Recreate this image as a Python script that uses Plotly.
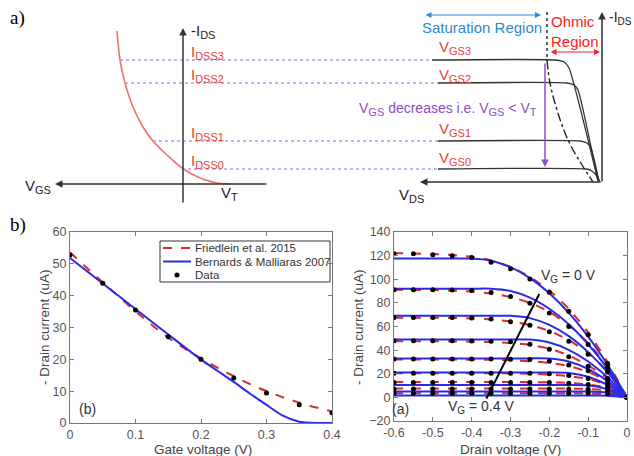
import plotly.graph_objects as go

W, H = 634, 456
FONT = "Liberation Sans, Arial, sans-serif"
SERIF = "Liberation Serif, Times New Roman, serif"

# ---------------- panel b (left): transfer curve ----------------
VG_DATA = [0, 0.05, 0.1, 0.15, 0.2, 0.25, 0.3, 0.35, 0.4]
ID_DATA = [52.8, 43.9, 35.5, 27.1, 20.0, 14.1, 9.4, 5.7, 3.2]
VG_FRIED = [0, 0.05, 0.1, 0.15, 0.2, 0.25, 0.3, 0.35, 0.4]
ID_FRIED = [53.6, 44.2, 35.1, 26.8, 20.3, 14.7, 10.0, 6.4, 3.6]
VG_BERN = [0, 0.05, 0.1, 0.15, 0.2, 0.225, 0.25, 0.275, 0.3, 0.325, 0.35, 0.375, 0.4]
ID_BERN = [51.8, 43.8, 35.8, 27.8, 19.9, 16.4, 12.9, 9.2, 5.7, 2.3, 0.4, 0, 0]
LEGEND_NAMES = ["Friedlein et al. 2015", "Bernards & Malliaras 2007", "Data"]

# ---------------- panel b (right): output curves ----------------
VD = [-0.6, -0.55, -0.5, -0.45, -0.4, -0.35, -0.3, -0.25, -0.2, -0.15, -0.1, -0.05, 0]
FRIED_OUT = [
    [122, 121.8, 121.3, 120.5, 119, 116, 110.5, 102, 90.5, 75, 55, 30, 0],
    [91, 91, 90.8, 90.4, 89.6, 88, 85, 80, 72.5, 61, 46, 26, 0],
    [67.5, 67.5, 67.4, 67.2, 66.8, 66, 64.3, 61.3, 56.3, 48.5, 37.5, 22, 0],
    [47.5, 47.5, 47.5, 47.4, 47.2, 46.8, 46, 44.5, 41.2, 35.5, 27, 16, 0],
    [32, 32, 32, 32, 31.9, 31.8, 31.4, 30.6, 29.2, 26.5, 21.5, 13.5, 0],
    [20.5, 20.5, 20.5, 20.5, 20.5, 20.4, 20.3, 20, 19.3, 18, 15.5, 10.5, 0],
    [13, 13, 13, 13, 13, 13, 13, 12.9, 12.7, 12.2, 11, 8, 0],
    [7.5, 7.5, 7.5, 7.5, 7.5, 7.5, 7.5, 7.5, 7.5, 7.4, 7.1, 5.8, 0],
    [3.5, 3.5, 3.5, 3.5, 3.5, 3.5, 3.5, 3.5, 3.5, 3.45, 3.3, 2.8, 0],
]
BERN_OUT = [
    [117.5, 117.5, 117.5, 117.5, 117.5, 115.7, 110.2, 101.0, 88.1, 71.6, 51.4, 27.5, 0],
    [92, 92, 92, 92, 92, 92, 90.1, 84.5, 75.0, 62.0, 45.0, 24.4, 0],
    [69, 69, 69, 69, 69, 69, 69, 67.1, 61.3, 51.8, 38.3, 21.1, 0],
    [49, 49, 49, 49, 49, 49, 49, 48.9, 46.4, 40.2, 30.4, 17.0, 0],
    [33, 33, 33, 33, 33, 33, 33, 33, 32.9, 30.3, 23.9, 13.9, 0],
    [21, 21, 21, 21, 21, 21, 21, 21, 21, 20.7, 17.4, 10.5, 0],
    [10.5, 10.5, 10.5, 10.5, 10.5, 10.5, 10.5, 10.5, 10.5, 10.5, 10.2, 6.9, 0],
    [5, 5, 5, 5, 5, 5, 5, 5, 5, 5, 5, 4.0, 0],
    [1.5, 1.5, 1.5, 1.5, 1.5, 1.5, 1.5, 1.5, 1.5, 1.5, 1.5, 1.45, 0],
]
DATA_OUT = [
    [121.5, 121.5, 120.7, 119.8, 118.4, 114.4, 108.8, 100.3, 89, 73, 53, 28.6, 0],
    [91.2, 91.2, 91.2, 91, 90.5, 88.7, 85.3, 79.6, 71.4, 60, 44.8, 25, 0],
    [67.7, 67.7, 67.7, 67.6, 67.2, 66.3, 64, 61, 55.5, 47.6, 36.5, 21.5, 0],
    [48, 48, 48, 48, 47.8, 47.5, 47, 45, 40.8, 34.3, 26.3, 15.9, 0],
    [32.5, 32.5, 32.5, 32.5, 32.5, 32.4, 32.2, 32, 30.5, 27.5, 22.5, 13.5, 0],
    [20.5, 20.5, 20.5, 20.5, 20.5, 20.5, 20.5, 20.5, 20, 18.5, 16, 10.5, 0],
    [12.5, 12.5, 12.5, 12.5, 12.5, 12.5, 12.5, 12.5, 12.5, 12, 11, 8, 0],
    [7, 7, 7, 7, 7, 7, 7, 7, 7, 7, 6.8, 5.5, 0],
    [3.5, 3.5, 3.5, 3.5, 3.5, 3.5, 3.5, 3.5, 3.5, 3.5, 3.5, 3, 0],
]
VG_ARROW_X = [-0.362, -0.226]
VG_ARROW_Y = [-1, 87.5]

# ---------------- panel a: schematic (diagram units = pixels) ----------------
TRANSFER_X = [117, 120, 125, 133, 143, 153, 167, 182, 200, 217, 230]
TRANSFER_Y = [31, 60, 83, 107, 127, 141, 155, 168, 178, 183, 184]
IDSS_LEVELS = [169, 141, 83, 60]
IDSS_START = [182, 153, 125, 120]
SAT_START = [438, 438, 438, 432]
OUT_CURVES_X = [
    [438, 586, 592, 596, 600],
    [438, 580, 587, 591, 599],
    [438, 567, 574, 578, 598],
    [432, 556, 564, 569, 598],
]
OUT_CURVES_Y = [
    [169, 169, 171, 175, 182],
    [141, 141, 143, 148, 181],
    [83, 83, 85, 90, 181],
    [60, 60, 62, 68, 181],
]
PINCH_X = [547, 550, 557, 568, 582, 593]
PINCH_Y = [60, 83, 110, 140, 165, 182]
SEP_X = [547, 547]
SEP_Y = [12, 60]
IDSS_LABELS = ["DSS0", "DSS1", "DSS2", "DSS3"]
IDSS_LABEL_Y = [161, 133, 75, 52]
VGS_LABELS = ["GS0", "GS1", "GS2", "GS3"]
VGS_LABEL_Y = [158, 129, 75, 47]

RED_TXT = "#e5423a"
PURPLE = "#8a4fc6"
LIGHT_PURPLE = "#b49ae6"
BLUE_TXT = "#2b8bd6"
RED_LINE = "#dd2a2a"
BLUE_LINE = "#2a2ae8"
GRAY = "#555555"


def sub(main, s, size=11):
    return f"{main}<sub><span style='font-size:{size}px'>{s}</span></sub>"


fig = go.Figure()

# schematic traces
fig.add_trace(go.Scatter(x=TRANSFER_X, y=TRANSFER_Y, mode="lines", xaxis="x3", yaxis="y3",
                         line=dict(color="#f07070", width=1.6, shape="spline", smoothing=0.8),
                         showlegend=False, hoverinfo="skip"))
for lvl, xs, xe in zip(IDSS_LEVELS, IDSS_START, SAT_START):
    fig.add_trace(go.Scatter(x=[xs, xe], y=[lvl, lvl], mode="lines", xaxis="x3", yaxis="y3",
                             line=dict(color=LIGHT_PURPLE, width=1.4, dash="dot"),
                             showlegend=False, hoverinfo="skip"))
for cx, cy in zip(OUT_CURVES_X, OUT_CURVES_Y):
    fig.add_trace(go.Scatter(x=cx, y=cy, mode="lines", xaxis="x3", yaxis="y3",
                             line=dict(color="#333333", width=1.3, shape="spline", smoothing=0.5),
                             showlegend=False, hoverinfo="skip"))
fig.add_trace(go.Scatter(x=PINCH_X, y=PINCH_Y, mode="lines", xaxis="x3", yaxis="y3",
                         line=dict(color="#222222", width=1.4, dash="dashdot", shape="spline"),
                         showlegend=False, hoverinfo="skip"))
fig.add_trace(go.Scatter(x=SEP_X, y=SEP_Y, mode="lines", xaxis="x3", yaxis="y3",
                         line=dict(color="#222222", width=1.4, dash="dot"),
                         showlegend=False, hoverinfo="skip"))

# left transfer plot
fig.add_trace(go.Scatter(x=VG_FRIED, y=ID_FRIED, mode="lines", name=LEGEND_NAMES[0], showlegend=False,
                         line=dict(color=RED_LINE, width=2, dash="dash", shape="spline"),
                         xaxis="x", yaxis="y"))
fig.add_trace(go.Scatter(x=VG_BERN, y=ID_BERN, mode="lines", name=LEGEND_NAMES[1], showlegend=False,
                         line=dict(color=BLUE_LINE, width=2, shape="spline", smoothing=0.6),
                         xaxis="x", yaxis="y"))
fig.add_trace(go.Scatter(x=VG_DATA, y=ID_DATA, mode="markers", name=LEGEND_NAMES[2], showlegend=False,
                         marker=dict(color="black", size=5), xaxis="x", yaxis="y"))

# compact legend (own small hidden axes; units = pixels inside the legend box)
LEG_ROWS = [7, 20.5, 34]
fig.add_trace(go.Scatter(x=[3, 31], y=[LEG_ROWS[0]] * 2, mode="lines", xaxis="x4", yaxis="y4",
                         showlegend=False, hoverinfo="skip",
                         line=dict(color=RED_LINE, width=2, dash="dash")))
fig.add_trace(go.Scatter(x=[3, 31], y=[LEG_ROWS[1]] * 2, mode="lines", xaxis="x4", yaxis="y4",
                         showlegend=False, hoverinfo="skip", line=dict(color=BLUE_LINE, width=2)))
fig.add_trace(go.Scatter(x=[17], y=[LEG_ROWS[2]], mode="markers", xaxis="x4", yaxis="y4",
                         showlegend=False, hoverinfo="skip", marker=dict(color="black", size=5)))

# right output plot
for r in FRIED_OUT:
    fig.add_trace(go.Scatter(x=VD, y=r, mode="lines", xaxis="x2", yaxis="y2", showlegend=False,
                             line=dict(color=RED_LINE, width=2, dash="dash", shape="spline", smoothing=0.6)))
for b in BERN_OUT:
    fig.add_trace(go.Scatter(x=VD, y=b, mode="lines", xaxis="x2", yaxis="y2", showlegend=False,
                             line=dict(color=BLUE_LINE, width=2, shape="spline", smoothing=0.6)))
for d in DATA_OUT:
    fig.add_trace(go.Scatter(x=VD, y=d, mode="markers", xaxis="x2", yaxis="y2", showlegend=False,
                             marker=dict(color="black", size=5)))
fig.add_trace(go.Scatter(x=VG_ARROW_X, y=VG_ARROW_Y, mode="lines", xaxis="x2", yaxis="y2",
                         showlegend=False, line=dict(color="black", width=2)))

axis_common = dict(showgrid=False, zeroline=False, showline=True, linecolor="#777777", linewidth=1,
                   mirror="ticks", ticks="inside", ticklen=4, tickcolor="#777777",
                   ticklabelstandoff=0, automargin=False,
                   tickfont=dict(family=FONT, size=12.5, color=GRAY))

annotations = []


def ann(text, x, y, **kw):
    d = dict(text=text, x=x, y=y, xref="x3", yref="y3", showarrow=False,
             font=dict(family=FONT, size=kw.pop("size", 15), color=kw.pop("color", "#222222")))
    d.update(kw)
    annotations.append(d)


def arrow(x0, y0, x1, y1, color, width=1.5, both=False, head=2):
    annotations.append(dict(x=x1, y=y1, ax=x0, ay=y0, xref="x3", yref="y3", axref="x3", ayref="y3",
                            text="", showarrow=True, arrowhead=head, arrowsize=1, arrowwidth=width,
                            arrowcolor=color, arrowside="end+start" if both else "end",
                            startarrowhead=head, startarrowsize=1))


# schematic axes
arrow(183, 204, 183, 28, "#333333")
arrow(268, 184, 55, 184, "#333333")
arrow(602, 183, 602, 12, "#333333")
arrow(602, 182, 420, 182, "#333333")
arrow(545, 62, 545, 167, PURPLE, width=1.5)
arrow(424, 15, 541, 15, BLUE_TXT, width=1.2, both=True)
arrow(549, 52, 600, 52, "#ff2020", width=1.2, both=True)

ann(sub("-I", "DS"), 189, 31, xanchor="left")
ann(sub("-I", "DS", 10), 607, 18, xanchor="left", size=14)
ann(sub("V", "GS"), 38, 186)
ann(sub("V", "T"), 229, 193)
ann(sub("V", "DS"), 411, 195)
for t, y in zip(IDSS_LABELS, IDSS_LABEL_Y):
    ann(sub("I", t), 189, y, xanchor="left", color=RED_TXT)
for t, y in zip(VGS_LABELS, VGS_LABEL_Y):
    ann(sub("V", t), 455, y, color=RED_TXT)
ann(sub("V", "GS") + " decreases i.e. " + sub("V", "GS") + " &lt; " + sub("V", "T"), 448, 109,
    color=PURPLE, size=14)
ann("Saturation Region", 482, 27, color=BLUE_TXT, size=15)
ann("Ohmic<br>Region", 549, 31, color="#ff2020", size=15, xanchor="left", align="left")

# legend texts
for name, yrow in zip(LEGEND_NAMES, LEG_ROWS):
    annotations.append(dict(text=name, x=33, y=yrow, xref="x4", yref="y4", showarrow=False,
                            xanchor="left", font=dict(family=FONT, size=11.5, color="#333333")))

# axis titles (placed as text, MATLAB-like)
title_font = dict(family=FONT, size=13.5, color="#444444")
AXIS_TITLES = [
    ("Gate voltage (V)", 203, 449, 0),
    ("Drain voltage (V)", 510, 449, 0),
    ("- Drain current (uA)", 44, 327, -90),
    ("- Drain current (uA)", 358, 327, -90),
]
for text, px, py, ang in AXIS_TITLES:
    annotations.append(dict(text=text, x=px / W, y=1 - py / H, xref="paper", yref="paper",
                            xanchor="center", yanchor="middle",
                            showarrow=False, textangle=ang, font=title_font))

# panel labels
annotations.append(dict(text="a)", x=8 / W, y=1 - 18 / H, xref="paper", yref="paper", showarrow=False,
                        xanchor="left", yanchor="middle", font=dict(family=SERIF, size=19, color="black")))
annotations.append(dict(text="b)", x=8 / W, y=1 - 225 / H, xref="paper", yref="paper", showarrow=False,
                        xanchor="left", yanchor="middle", font=dict(family=SERIF, size=19, color="black")))

# bottom plot labels
annotations.append(dict(text="(b)", x=0.027, y=4.3, xref="x", yref="y", showarrow=False,
                        font=dict(family=FONT, size=14, color="#333333")))
annotations.append(dict(text="(a)", x=-0.582, y=-9.5, xref="x2", yref="y2", showarrow=False,
                        font=dict(family=FONT, size=14, color="#333333")))
annotations.append(dict(text=sub("V", "G", 10) + " = 0 V", x=-0.15, y=103, xref="x2", yref="y2",
                        showarrow=False, font=dict(family=FONT, size=14, color="#333333")))
annotations.append(dict(text=sub("V", "G", 10) + " = 0.4 V", x=-0.375, y=-8, xref="x2", yref="y2",
                        showarrow=False, font=dict(family=FONT, size=14, color="#333333")))

shapes = [dict(type="rect", xref="x4 domain", yref="y4 domain", x0=0, x1=1, y0=0, y1=1,
               line=dict(color="#333333", width=1), fillcolor="white", layer="below")]

fig.update_layout(
    width=W, height=H, margin=dict(l=0, r=0, t=0, b=0, autoexpand=False),
    paper_bgcolor="white", plot_bgcolor="rgba(0,0,0,0)",
    font=dict(family=FONT),
    xaxis=dict(domain=[70 / W, 332 / W], range=[0, 0.4], tickvals=[0, 0.1, 0.2, 0.3, 0.4],
               ticktext=["0", "0.1", "0.2", "0.3", "0.4"], anchor="y", **axis_common),
    yaxis=dict(domain=[1 - 423 / H, 1 - 232 / H], range=[0, 60], dtick=10, anchor="x", **axis_common),
    xaxis2=dict(domain=[394 / W, 627 / W], range=[-0.6, 0],
                tickvals=[-0.6, -0.5, -0.4, -0.3, -0.2, -0.1, 0],
                ticktext=["-0.6", "-0.5", "-0.4", "-0.3", "-0.2", "-0.1", "0"],
                anchor="y2", **axis_common),
    yaxis2=dict(domain=[1 - 421 / H, 1 - 232 / H], range=[-20, 140], dtick=20, anchor="x2", **axis_common),
    xaxis3=dict(domain=[0, 1], range=[0, W], visible=False, anchor="y3", automargin=False),
    yaxis3=dict(domain=[1 - 205 / H, 1], range=[205, 0], visible=False, anchor="x3", automargin=False),
    xaxis4=dict(domain=[160 / W, 330 / W], range=[0, 170], visible=False, anchor="y4", automargin=False),
    yaxis4=dict(domain=[1 - 282 / H, 1 - 241 / H], range=[41, 0], visible=False, anchor="x4",
                automargin=False),
    annotations=annotations,
    shapes=shapes,
    showlegend=False,
)

fig.write_html("out.html")
